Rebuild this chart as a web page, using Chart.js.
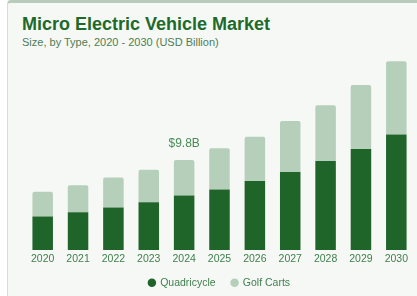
<!DOCTYPE html>
<html>
<head>
<meta charset="utf-8">
<script src="https://cdn.jsdelivr.net/npm/chart.js@4.4.1/dist/chart.umd.min.js"></script>
<style>
  html, body { margin: 0; padding: 0; background: #fff; }
  body { width: 417px; height: 296px; overflow: hidden; position: relative; }
  .card {
    position: absolute; left: 7px; top: 0; width: 409px; height: 293px;
    background: #f6f8f6;
    border-top: 3px solid #b7ccba;
    border-left: 1px solid #d3ded4;
    border-top-left-radius: 4px;
  }
  .title {
    position: absolute; left: 22px; top: 14px;
    font: bold 18px "Liberation Sans Narrow", "Liberation Sans", Arial, sans-serif;
    color: #1d6a2a; white-space: nowrap;
  }
  .subtitle {
    position: absolute; left: 22px; top: 36px;
    font: 11px "Liberation Sans", Arial, sans-serif;
    color: #4d7d55; white-space: nowrap;
  }
  #chart { position: absolute; left: 8px; top: 40px; }
</style>
</head>
<body>
<div class="card"></div>
<div class="title">Micro Electric Vehicle Market</div>
<div class="subtitle">Size, by Type, 2020 - 2030 (USD Billion)</div>
<canvas id="chart" width="409" height="256"></canvas>
<script>
const years = ['2020', '2021', '2022', '2023', '2024', '2025', '2026', '2027', '2028', '2029', '2030'];
const quadricycle = [3.66, 4.12, 4.63, 5.20, 5.95, 6.60, 7.53, 8.50, 9.69, 11.01, 12.59];
const golfCarts = [2.69, 2.94, 3.26, 3.55, 3.85, 4.49, 4.81, 5.56, 6.09, 6.97, 7.97];
const highlightYear = '2024';

const DARK = '#1f6428';
const LIGHT = '#b5cfba';
const TEXT = '#3f7e4b';
const FONT = '"Liberation Sans", Arial, sans-serif';

// Value label above the highlighted bar
const totalLabel = {
  id: 'totalLabel',
  afterDatasetsDraw(chart) {
    const i = years.indexOf(highlightYear);
    const bar = chart.getDatasetMeta(1).data[i];
    if (!bar) return;
    const total = quadricycle[i] + golfCarts[i];
    const ctx = chart.ctx;
    ctx.save();
    ctx.font = '12px ' + FONT;
    ctx.fillStyle = '#4a8a55';
    ctx.textAlign = 'center';
    ctx.textBaseline = 'bottom';
    ctx.fillText('$' + total.toFixed(1) + 'B', bar.x, bar.y - 10);
    ctx.restore();
  },
};

// Pull the legend up a bit, closer to the year labels
const legendNudge = {
  id: 'legendNudge',
  afterLayout(chart) {
    if (!chart.legend) return;
    chart.legend.top -= 6;
    chart.legend.bottom -= 6;
  },
};

new Chart(document.getElementById('chart'), {
  type: 'bar',
  data: {
    labels: years,
    datasets: [
      {
        label: 'Quadricycle',
        data: quadricycle,
        backgroundColor: DARK,
        borderWidth: 0,
        barPercentage: 0.58,
        categoryPercentage: 1,
      },
      {
        label: 'Golf Carts',
        data: golfCarts,
        backgroundColor: LIGHT,
        borderWidth: 0,
        borderRadius: { topLeft: 2, topRight: 2 },
        borderSkipped: 'bottom',
        barPercentage: 0.58,
        categoryPercentage: 1,
      },
    ],
  },
  options: {
    responsive: false,
    animation: false,
    layout: { padding: { left: 17, right: 3, top: 8, bottom: -8 } },
    plugins: {
      legend: {
        position: 'bottom',
        labels: {
          usePointStyle: true,
          pointStyle: 'circle',
          boxWidth: 6,
          boxHeight: 6,
          padding: 16,
          color: TEXT,
          font: { family: FONT, size: 10.5 },
        },
      },
      tooltip: { enabled: false },
      title: { display: false },
    },
    scales: {
      x: {
        stacked: true,
        grid: { display: false, drawTicks: false },
        border: { display: false },
        ticks: { color: TEXT, font: { family: FONT, size: 10.5 }, padding: 2.4 },
      },
      y: {
        stacked: true,
        display: false,
        min: 0,
        max: 22,
      },
    },
  },
  plugins: [totalLabel, legendNudge],
});
</script>
</body>
</html>
